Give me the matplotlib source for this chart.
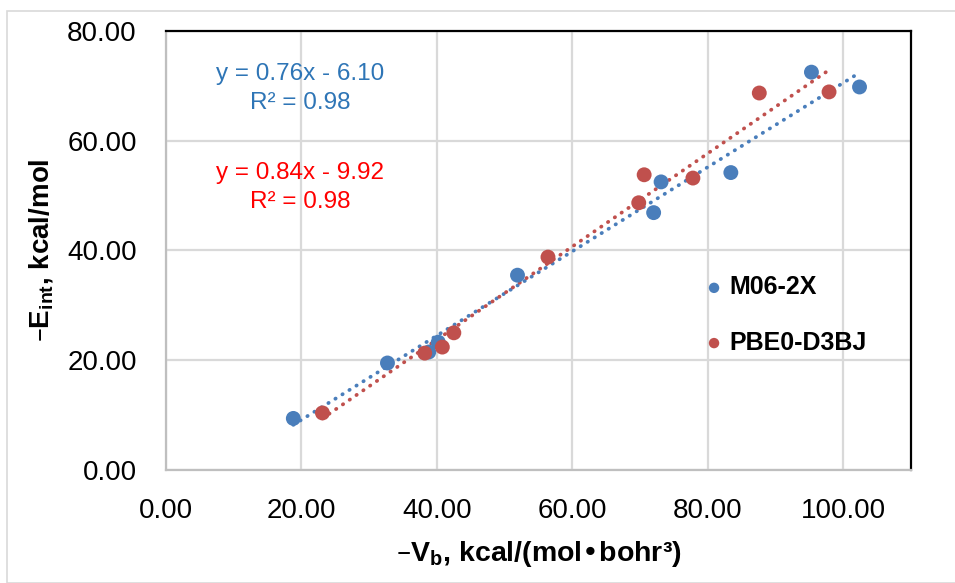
import numpy as np
import matplotlib.pyplot as plt
from matplotlib.patches import Rectangle

# datos
x_m06 = [18.8, 32.7, 38.8, 40.2, 51.9, 72.0, 73.1, 83.4, 95.3, 102.4]
y_m06 = [9.4, 19.5, 21.5, 23.3, 35.5, 46.9, 52.5, 54.2, 72.5, 69.8]

x_pbe = [23.1, 38.2, 40.8, 42.5, 56.4, 69.8, 70.6, 77.8, 87.6, 97.9]
y_pbe = [10.4, 21.3, 22.4, 25.0, 38.8, 48.7, 53.8, 53.2, 68.7, 68.9]

series = ["M06-2X", "PBE0-D3BJ"]
eq_m06 = "y = 0.76x - 6.10\nR² = 0.98"
eq_pbe = "y = 0.84x - 9.92\nR² = 0.98"

azul = "#4a7ebb"
rojo = "#c0504d"
fuente = ["Liberation Sans", "DejaVu Sans"]

fig = plt.figure(figsize=(9.55, 5.83), dpi=100)
fig.patches.append(Rectangle((7/955, 0), 1, 1 - 11/583, transform=fig.transFigure,
                             fill=False, edgecolor="#d9d9d9", lw=1.2))
ax = fig.add_axes([166/955, 113/583, 745/955, 439/583])

# puntos
ax.scatter(x_m06, y_m06, s=115, color=azul, zorder=3, label=series[0], edgecolors="none")
ax.scatter(x_pbe, y_pbe, s=115, color=rojo, zorder=3, label=series[1], edgecolors="none")

# lineas de tendencia (ajuste lineal)
for xs, ys, c in [(x_m06, y_m06, azul), (x_pbe, y_pbe, rojo)]:
    m, b = np.polyfit(xs, ys, 1)
    xx = np.array([min(xs), max(xs)])
    ax.plot(xx, m*xx + b, color=c, lw=2.7, linestyle=(0, (0.1, 2.1)),
            dash_capstyle="round", zorder=2)

ax.text(19.8, 69.5, eq_m06, color="#2e75b6", fontsize=17.5, ha="center", va="center",
        family=fuente, linespacing=1.45)
ax.text(19.8, 51.5, eq_pbe, color="#ff0000", fontsize=17.5, ha="center", va="center",
        family=fuente, linespacing=1.45)

ax.set_xlim(0, 110)
ax.set_ylim(0, 80)
ax.set_xticks([0, 20, 40, 60, 80, 100])
ax.set_yticks([0, 20, 40, 60, 80])
ax.xaxis.set_major_formatter(lambda v, p: f"{v:.2f}")
ax.yaxis.set_major_formatter(lambda v, p: f"{v:.2f}")
ax.tick_params(length=0, labelsize=20, pad=20)
ax.tick_params(axis="y", pad=21)
for lab in ax.get_xticklabels() + ax.get_yticklabels():
    lab.set_family(fuente)

ax.grid(True, color="#d9d9d9", lw=1.6)
ax.set_axisbelow(True)
for s in ["top", "right"]:
    ax.spines[s].set_color("black")
    ax.spines[s].set_linewidth(1.6)
for s in ["left", "bottom"]:
    ax.spines[s].set_color("#bfbfbf")
    ax.spines[s].set_linewidth(1.6)

ax.set_xlabel("–V$_{\\mathregular{b}}$, kcal/(mol•bohr³)", fontsize=20.5,
              fontweight="bold", family=fuente, labelpad=11)
ax.set_ylabel("–E$_{\\mathregular{int}}$, kcal/mol", fontsize=20,
              fontweight="bold", family=fuente, labelpad=8)

leg = ax.legend(loc="center left", bbox_to_anchor=(0.692, 0.353), frameon=False,
                handletextpad=0.2, handlelength=0.8, labelspacing=1.25,
                markerscale=0.7,
                prop={"family": fuente, "weight": "bold", "size": 18})

plt.savefig("out.png", dpi=100)
